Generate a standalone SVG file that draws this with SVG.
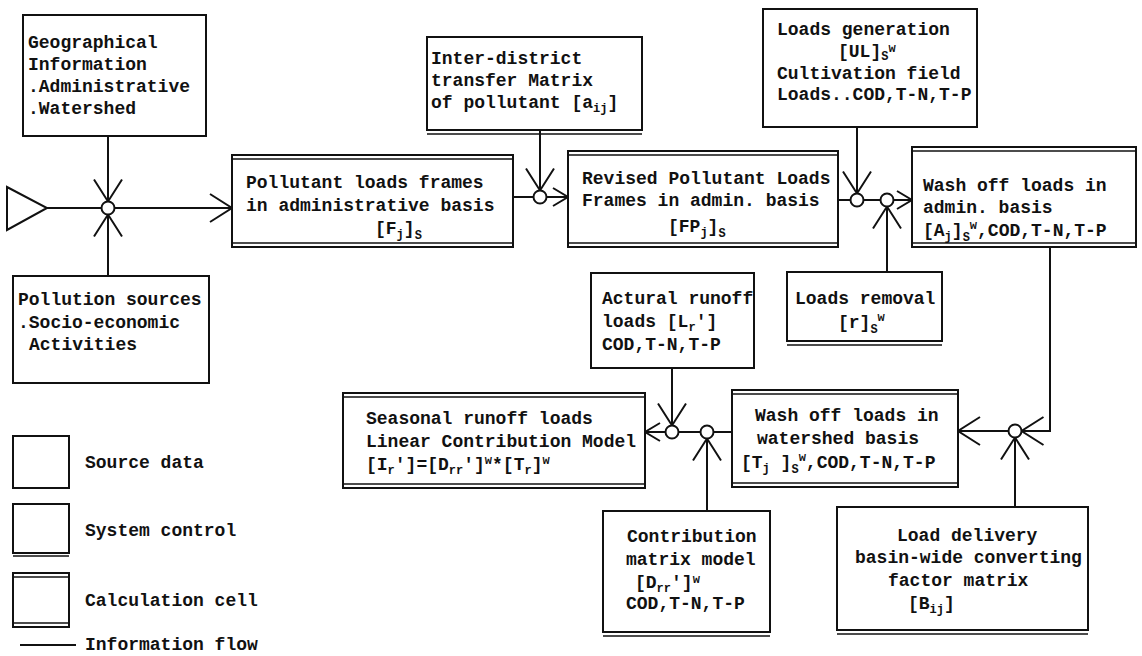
<svg xmlns="http://www.w3.org/2000/svg" width="1142" height="656" viewBox="0 0 1142 656">
<defs>
<style>
text{font-family:"Liberation Mono","Courier New",monospace;font-size:18px;font-weight:bold;fill:#111}
.sb{font-size:12px}
.bx{fill:#fff;stroke:#111;stroke-width:2}
.dl{stroke:#111;stroke-width:1.6;fill:none}
.ln{stroke:#111;stroke-width:2;fill:none}
.jn{fill:#fff;stroke:#111;stroke-width:2}
</style>
<marker id="ah" markerUnits="userSpaceOnUse" markerWidth="28" markerHeight="34" viewBox="0 0 28 34" refX="25" refY="17" orient="auto"><path d="M3,3 L25,17 L3,31" fill="none" stroke="#111" stroke-width="2"/></marker>
<marker id="ahs" markerUnits="userSpaceOnUse" markerWidth="20" markerHeight="24" viewBox="0 0 20 24" refX="17" refY="12" orient="auto"><path d="M2,3 L17,12 L2,21" fill="none" stroke="#111" stroke-width="2"/></marker>
</defs>
<rect width="1142" height="656" fill="#fff"/>

<g id="connectors">
<polygon points="7,187 7,230 47,208" class="ln"/>
<line x1="47" y1="208" x2="101.5" y2="208" class="ln"/>
<line x1="114.5" y1="208" x2="232" y2="208" class="ln" marker-end="url(#ah)"/>
<line x1="108" y1="136" x2="108" y2="201.5" class="ln" marker-end="url(#ah)"/>
<line x1="108" y1="276" x2="108" y2="214.5" class="ln" marker-end="url(#ah)"/>
<circle cx="108" cy="208" r="6.5" class="jn"/>

<line x1="513" y1="197" x2="533.5" y2="197" class="ln"/>
<line x1="546.5" y1="197" x2="568" y2="197" class="ln" marker-end="url(#ahs)"/>
<line x1="540" y1="130" x2="540" y2="190.5" class="ln" marker-end="url(#ah)"/>
<circle cx="540" cy="197" r="6.5" class="jn"/>

<line x1="838" y1="200" x2="850.5" y2="200" class="ln"/>
<line x1="863.5" y1="200" x2="880.5" y2="200" class="ln"/>
<line x1="893.5" y1="200" x2="912" y2="200" class="ln" marker-end="url(#ahs)"/>
<line x1="857" y1="127" x2="857" y2="193.5" class="ln" marker-end="url(#ah)"/>
<line x1="887" y1="272" x2="887" y2="206.5" class="ln" marker-end="url(#ah)"/>
<circle cx="857" cy="200" r="6.5" class="jn"/>
<circle cx="887" cy="200" r="6.5" class="jn"/>

<polyline points="1050,247 1050,431 1021.5,431" class="ln" marker-end="url(#ah)"/>
<line x1="1008.5" y1="431" x2="958" y2="431" class="ln" marker-end="url(#ah)"/>
<line x1="1015" y1="507" x2="1015" y2="437.5" class="ln" marker-end="url(#ah)"/>
<circle cx="1015" cy="431" r="6.5" class="jn"/>

<line x1="732" y1="432" x2="713.5" y2="432" class="ln"/>
<line x1="700.5" y1="432" x2="678.5" y2="432" class="ln"/>
<line x1="665.5" y1="432" x2="645" y2="432" class="ln" marker-end="url(#ahs)"/>
<line x1="672" y1="368" x2="672" y2="425.5" class="ln" marker-end="url(#ah)"/>
<line x1="707" y1="511" x2="707" y2="438.5" class="ln" marker-end="url(#ah)"/>
<circle cx="707" cy="432" r="6.5" class="jn"/>
<circle cx="672" cy="432" r="6.5" class="jn"/>

<line x1="20" y1="645" x2="76" y2="645" class="ln"/>
</g>

<g id="geo">
<rect x="23" y="15" width="183" height="121" class="bx"/>
<text x="28" y="48">Geographical</text>
<text x="28" y="70">Information</text>
<text x="28" y="92">.Administrative</text>
<text x="28" y="114">.Watershed</text>
</g>

<g id="psrc">
<rect x="13" y="276" width="196" height="107" class="bx"/>
<text x="18" y="305">Pollution sources</text>
<text x="18" y="328">.Socio-economic</text>
<text x="29" y="350">Activities</text>
</g>

<g id="pframes">
<rect x="232" y="155" width="281" height="92" class="bx"/>
<line x1="232" y1="159" x2="513" y2="159" class="dl"/>
<line x1="232" y1="243" x2="513" y2="243" class="dl"/>
<text x="246" y="188">Pollutant loads frames</text>
<text x="246" y="211">in administrative basis</text>
<text x="375" y="234">[F<tspan class="sb" dy="4">j</tspan><tspan dy="-4">]</tspan><tspan class="sb" dy="5">S</tspan></text>
</g>

<g id="inter">
<rect x="427" y="37" width="215" height="93" class="bx"/>
<line x1="427" y1="134" x2="642" y2="134" class="dl"/>
<text x="431" y="64">Inter-district</text>
<text x="431" y="86">transfer Matrix</text>
<text x="431" y="108">of pollutant [a<tspan class="sb" dy="4">ij</tspan><tspan dy="-4">]</tspan></text>
</g>

<g id="revised">
<rect x="568" y="151" width="270" height="96" class="bx"/>
<line x1="568" y1="155" x2="838" y2="155" class="dl"/>
<line x1="568" y1="243" x2="838" y2="243" class="dl"/>
<text x="582" y="184">Revised Pollutant Loads</text>
<text x="582" y="206">Frames in admin. basis</text>
<text x="668" y="232">[FP<tspan class="sb" dy="4">j</tspan><tspan dy="-4">]</tspan><tspan class="sb" dy="5">S</tspan></text>
</g>

<g id="loadgen">
<rect x="763" y="9" width="214" height="118" class="bx"/>
<text x="777" y="35">Loads generation</text>
<text x="838" y="57">[UL]<tspan class="sb" dy="3">S</tspan><tspan class="sb" dy="-8">w</tspan></text>
<text x="777" y="79">Cultivation field</text>
<text x="777" y="100">Loads..COD,T-N,T-P</text>
</g>

<g id="washadmin">
<rect x="912" y="147" width="224" height="100" class="bx"/>
<line x1="912" y1="151" x2="1136" y2="151" class="dl"/>
<line x1="912" y1="243" x2="1136" y2="243" class="dl"/>
<text x="923" y="191">Wash off loads in</text>
<text x="923" y="213">admin. basis</text>
<text x="923" y="236">[A<tspan class="sb" dy="4">j</tspan><tspan dy="-4">]</tspan><tspan class="sb" dy="5">S</tspan><tspan class="sb" dy="-12">w</tspan><tspan dy="7">,COD,T-N,T-P</tspan></text>
</g>

<g id="removal">
<rect x="787" y="272" width="155" height="69" class="bx"/>
<line x1="787" y1="345" x2="942" y2="345" class="dl"/>
<text x="795" y="304">Loads removal</text>
<text x="838" y="328">[r]<tspan class="sb" dy="5">S</tspan><tspan class="sb" dy="-12">w</tspan></text>
</g>

<g id="actural">
<rect x="591" y="273" width="163" height="95" class="bx"/>
<text x="602" y="304">Actural runoff</text>
<text x="602" y="327">loads [L<tspan class="sb" dy="4">r</tspan><tspan dy="-4">']</tspan></text>
<text x="602" y="350">COD,T-N,T-P</text>
</g>

<g id="seasonal">
<rect x="343" y="393" width="302" height="95" class="bx"/>
<line x1="343" y1="397" x2="645" y2="397" class="dl"/>
<line x1="343" y1="484" x2="645" y2="484" class="dl"/>
<text x="366" y="424">Seasonal runoff loads</text>
<text x="366" y="447">Linear Contribution Model</text>
<text x="366" y="470">[I<tspan class="sb" dy="4">r</tspan><tspan dy="-4">']=[D</tspan><tspan class="sb" dy="4">rr</tspan><tspan dy="-4">']</tspan><tspan class="sb" dy="-6">w</tspan><tspan dy="6">*[T</tspan><tspan class="sb" dy="4">r</tspan><tspan dy="-4">]</tspan><tspan class="sb" dy="-6">w</tspan></text>
</g>

<g id="washws">
<rect x="732" y="390" width="226" height="97" class="bx"/>
<line x1="732" y1="394" x2="958" y2="394" class="dl"/>
<line x1="732" y1="483" x2="958" y2="483" class="dl"/>
<text x="755" y="421">Wash off loads in</text>
<text x="757" y="444">watershed basis</text>
<text x="741" y="468">[T<tspan class="sb" dy="4">j</tspan><tspan dy="-4"> ]</tspan><tspan class="sb" dy="5">S</tspan><tspan class="sb" dy="-12">w</tspan><tspan dy="7">,COD,T-N,T-P</tspan></text>
</g>

<g id="contrib">
<rect x="603" y="511" width="167" height="121" class="bx"/>
<line x1="603" y1="636" x2="770" y2="636" class="dl"/>
<text x="627" y="542">Contribution</text>
<text x="626" y="565">matrix model</text>
<text x="635" y="588">[D<tspan class="sb" dy="4">rr</tspan><tspan dy="-4">']</tspan><tspan class="sb" dy="-5">w</tspan></text>
<text x="626" y="609">COD,T-N,T-P</text>
</g>

<g id="delivery">
<rect x="837" y="507" width="251" height="123" class="bx"/>
<line x1="837" y1="634" x2="1088" y2="634" class="dl"/>
<text x="897" y="541">Load delivery</text>
<text x="855" y="563">basin-wide converting</text>
<text x="888" y="586">factor matrix</text>
<text x="908" y="609">[B<tspan class="sb" dy="4">ij</tspan><tspan dy="-4">]</tspan></text>
</g>

<g id="legend">
<rect x="13" y="436" width="56" height="52" class="bx"/>
<text x="85" y="468">Source data</text>
<rect x="13" y="504" width="56" height="49" class="bx"/>
<line x1="13" y1="556" x2="69" y2="556" class="dl"/>
<text x="85" y="536">System control</text>
<rect x="13" y="573" width="56" height="54" class="bx"/>
<line x1="13" y1="577" x2="69" y2="577" class="dl"/>
<line x1="13" y1="623" x2="69" y2="623" class="dl"/>
<text x="85" y="606">Calculation cell</text>
<text x="85" y="650">Information flow</text>
</g>
</svg>
